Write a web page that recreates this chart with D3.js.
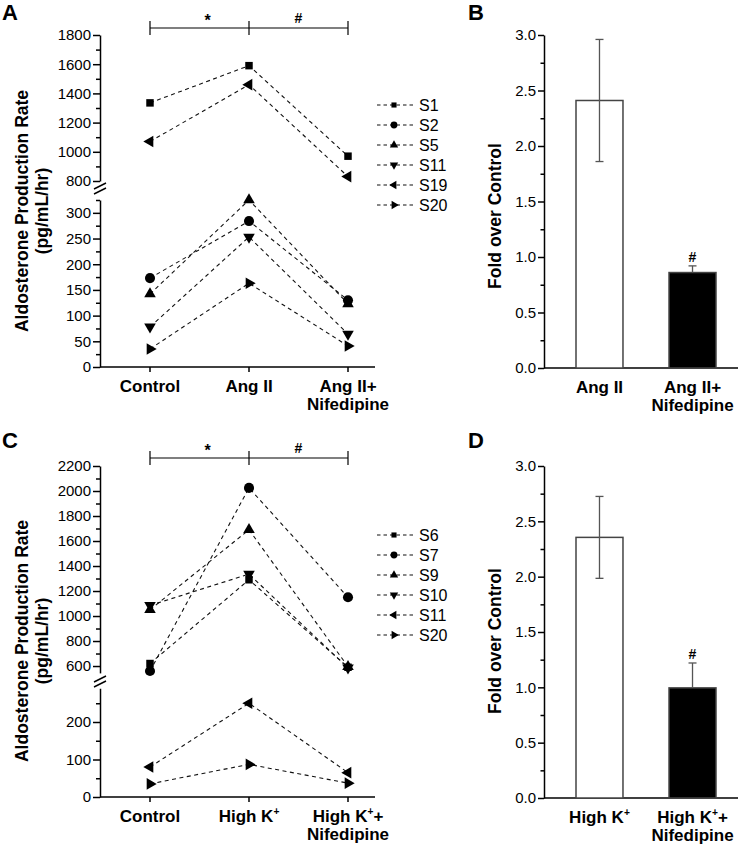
<!DOCTYPE html>
<html>
<head>
<meta charset="utf-8">
<script src="https://cdn.jsdelivr.net/npm/d3@7"></script>
<style>
body { margin: 0; background: #fff; }
svg text { font-family: "Liberation Sans", Arial, sans-serif; fill: #000; }
</style>
</head>
<body>
<div id="chart"></div>
<script>
// ---- Panel A: Ang II experiment (pg/mL/hr)
var catsA = [["Control"], ["Ang II"], ["Ang II+", "Nifedipine"]];
var subjectsA = ["S1", "S2", "S5", "S11", "S19", "S20"];
var valuesA = [
    [1335, 1590, 970],
    [173, 284, 130],
    [142, 325, 123],
    [78, 253, 64],
    [1070, 1460, 830],
    [35, 163, 41]
];
var upperTicksA = [800, 1000, 1200, 1400, 1600, 1800];
var upperMinorA = [900, 1100, 1300, 1500, 1700];
var lowerTicksA = [0, 50, 100, 150, 200, 250, 300];
var lowerMinorA = [25, 75, 125, 175, 225, 275, 325];

// ---- Panel B: fold over control
var catsB = [["Ang II"], ["Ang II+", "Nifedipine"]];
var foldB = [2.41, 0.86];
var errB = [0.55, 0.06];

// ---- Panel C: High K+ experiment (pg/mL/hr)
var catsC = [["Control"], ["High K^+"], ["High K^+^+", "Nifedipine"]];
var subjectsC = ["S6", "S7", "S9", "S10", "S11", "S20"];
var valuesC = [
    [620, 1290, 590],
    [560, 2025, 1150],
    [1050, 1690, 595],
    [1085, 1335, 585],
    [80, 250, 65],
    [35, 87, 37]
];
var upperTicksC = [600, 800, 1000, 1200, 1400, 1600, 1800, 2000, 2200];
var upperMinorC = [700, 900, 1100, 1300, 1500, 1700, 1900, 2100];
var lowerTicksC = [0, 100, 200];
var lowerMinorC = [50, 150, 250];

// ---- Panel D
var catsD = [["High K^+"], ["High K^+^+", "Nifedipine"]];
var foldD = [2.355, 0.995];
var errD = [0.37, 0.225];

var foldTicks = [0, 0.5, 1, 1.5, 2, 2.5, 3];
var foldMinor = [0.25, 0.75, 1.25, 1.75, 2.25, 2.75];

var width = 750, height = 846;
var svg = d3.select('#chart')
    .append('svg')
    .attr('width', width)
    .attr('height', height);

// symbol per series position: square, circle, up, down, left, right
var symbols = [
    { type: d3.symbolSquare, rot: 0, size: 56, small: 26 },
    { type: d3.symbolCircle, rot: 0, size: 80, small: 36 },
    { type: d3.symbolTriangle, rot: 0, size: 58, small: 30 },
    { type: d3.symbolTriangle, rot: 180, size: 58, small: 30 },
    { type: d3.symbolTriangle, rot: -90, size: 58, small: 30 },
    { type: d3.symbolTriangle, rot: 90, size: 58, small: 30 }
];

// category label line; "^+" is a superscript plus
function catLine(sel, str) {
    var parts = str.split('^');
    sel.append('tspan').text(parts[0]);
    if (parts.length > 1) {
        sel.append('tspan').attr('font-size', '0.6em').attr('dy', -7).text(parts[1]);
        sel.append('tspan').attr('dy', 7).text(parts[2] || '');
    }
}

function styleAxis(g) {
    g.selectAll('path, line').attr('stroke', '#000').attr('stroke-width', 1.5);
    g.selectAll('text').attr('font-size', '15px');
}

function linePanel(cfg) {
    var g = svg.append('g');
    var x = d3.scalePoint().domain(d3.range(3)).range([150, 348]);
    var yU = d3.scaleLinear().domain(cfg.upperDomain).range(cfg.upperRange);
    var yL = d3.scaleLinear().domain(cfg.lowerDomain).range(cfg.lowerRange);
    var yOf = function (v) { return v >= cfg.upperDomain[0] ? yU(v) : yL(v); };
    var axX = 100, base = cfg.lowerRange[0];

    // y axes (two segments)
    [[yU, cfg.upperTicks, cfg.upperMinor], [yL, cfg.lowerTicks, cfg.lowerMinor]].forEach(function (s) {
        g.append('g').attr('transform', 'translate(' + axX + ',0)')
            .call(d3.axisLeft(s[0]).tickValues(s[1]).tickFormat(d3.format('d'))
                .tickSize(7).tickSizeOuter(0).tickPadding(2))
            .call(styleAxis);
        g.append('g').attr('transform', 'translate(' + axX + ',0)')
            .call(d3.axisLeft(s[0]).tickValues(s[2]).tickSize(4).tickFormat(''))
            .call(styleAxis)
            .select('.domain').remove();
    });
    // axis break marks
    [0, 5].forEach(function (o) {
        g.append('line')
            .attr('x1', axX - 6).attr('y1', cfg.breakY + o + 3)
            .attr('x2', axX + 6).attr('y2', cfg.breakY + o - 3)
            .attr('stroke', '#000').attr('stroke-width', 1.5);
    });

    // x axis
    g.append('line').attr('x1', axX).attr('x2', 375).attr('y1', base).attr('y2', base)
        .attr('stroke', '#000').attr('stroke-width', 1.5);
    g.selectAll('.xt').data(d3.range(3)).enter().append('line')
        .attr('x1', function (d) { return x(d); }).attr('x2', function (d) { return x(d); })
        .attr('y1', base).attr('y2', base + 5)
        .attr('stroke', '#000').attr('stroke-width', 1.5);
    cfg.cats.forEach(function (lines, i) {
        lines.forEach(function (l, k) {
            var t = g.append('text').attr('x', x(i)).attr('y', base + 25 + k * 18)
                .attr('text-anchor', 'middle').attr('font-size', '17px').attr('font-weight', 'bold');
            catLine(t, l);
        });
    });

    // y label
    var yc = cfg.labelY;
    g.append('text').attr('transform', 'translate(28,' + yc + ') rotate(-90)')
        .attr('text-anchor', 'middle').attr('font-size', '17.5px').attr('font-weight', 'bold')
        .text('Aldosterone Production Rate');
    g.append('text').attr('transform', 'translate(48,' + yc + ') rotate(-90)')
        .attr('text-anchor', 'middle').attr('font-size', '17.5px').attr('font-weight', 'bold')
        .text('(pg/mL/hr)');

    // series lines
    var line = d3.line();
    cfg.values.forEach(function (vals) {
        g.append('path')
            .attr('d', line(vals.map(function (v, j) { return [x(j), yOf(v)]; })))
            .attr('fill', 'none').attr('stroke', '#111').attr('stroke-width', 1.1)
            .attr('stroke-dasharray', '4,3.5');
    });
    // markers, last series first so earlier ones sit on top
    d3.range(cfg.values.length - 1, -1, -1).forEach(function (i) {
        var s = symbols[i];
        cfg.values[i].forEach(function (v, j) {
            g.append('path')
                .attr('d', d3.symbol().type(s.type).size(s.size)())
                .attr('transform', 'translate(' + x(j) + ',' + yOf(v) + ') rotate(' + s.rot + ')')
                .attr('fill', '#000');
        });
    });

    // legend
    cfg.names.forEach(function (n, i) {
        var ly = cfg.legendY + i * 20, s = symbols[i];
        g.append('line').attr('x1', 377).attr('x2', 415).attr('y1', ly).attr('y2', ly)
            .attr('stroke', '#111').attr('stroke-width', 1.1).attr('stroke-dasharray', '3.5,3');
        g.append('path').attr('d', d3.symbol().type(s.type).size(s.small)())
            .attr('transform', 'translate(394,' + ly + ') rotate(' + s.rot + ')').attr('fill', '#000');
        g.append('text').attr('x', 419).attr('y', ly + 6).attr('font-size', '16px').text(n);
    });

    // significance bracket
    var sy = cfg.sigY;
    g.append('line').attr('x1', x(0)).attr('x2', x(2)).attr('y1', sy).attr('y2', sy)
        .attr('stroke', '#000').attr('stroke-width', 1.2);
    d3.range(3).forEach(function (j) {
        g.append('line').attr('x1', x(j)).attr('x2', x(j)).attr('y1', sy - 7).attr('y2', sy + 7)
            .attr('stroke', '#000').attr('stroke-width', 1.2);
    });
    g.append('text').attr('x', (x(0) + x(1)) / 2 + 8).attr('y', sy - 2)
        .attr('text-anchor', 'middle').attr('font-size', '16px').attr('font-weight', 'bold').text('*');
    g.append('text').attr('x', (x(1) + x(2)) / 2).attr('y', sy - 5)
        .attr('text-anchor', 'middle').attr('font-size', '14px').attr('font-weight', 'bold').text('#');

    g.append('text').attr('x', 2).attr('y', cfg.letterY).attr('font-size', '22px')
        .attr('font-weight', 'bold').text(cfg.letter);
}

function barPanel(cfg) {
    var g = svg.append('g');
    var axX = 544;
    var y = d3.scaleLinear().domain([0, 3]).range(cfg.yRange);
    var x = d3.scaleBand().domain(d3.range(cfg.vals.length)).range([544, 748])
        .paddingInner(0.495).paddingOuter(0.344);
    var base = cfg.yRange[0];

    g.append('g').attr('transform', 'translate(' + axX + ',0)')
        .call(d3.axisLeft(y).tickValues(foldTicks).tickFormat(d3.format('.1f')).tickSize(6).tickSizeOuter(0).tickPadding(2))
        .call(styleAxis);
    g.append('g').attr('transform', 'translate(' + axX + ',0)')
        .call(d3.axisLeft(y).tickValues(foldMinor).tickSize(3.5).tickFormat(''))
        .call(styleAxis)
        .select('.domain').remove();
    g.append('line').attr('x1', axX).attr('x2', 738).attr('y1', base).attr('y2', base)
        .attr('stroke', '#000').attr('stroke-width', 1.5);

    var fills = ['#fff', '#000'];
    g.selectAll('rect').data(cfg.vals).enter().append('rect')
        .attr('x', function (d, i) { return x(i); })
        .attr('y', function (d) { return y(d); })
        .attr('width', x.bandwidth())
        .attr('height', function (d) { return base - y(d); })
        .attr('fill', function (d, i) { return fills[i]; })
        .attr('stroke', '#444').attr('stroke-width', 1.5);

    cfg.vals.forEach(function (v, i) {
        var cx = x(i) + x.bandwidth() / 2, e = cfg.errs[i];
        var lo = i === 0 ? v - e : v;
        g.append('line').attr('x1', cx).attr('x2', cx).attr('y1', y(lo)).attr('y2', y(v + e))
            .attr('stroke', '#555').attr('stroke-width', 1.3);
        [v + e].concat(i === 0 ? [v - e] : []).forEach(function (c) {
            g.append('line').attr('x1', cx - 4).attr('x2', cx + 4).attr('y1', y(c)).attr('y2', y(c))
                .attr('stroke', '#555').attr('stroke-width', 1.3);
        });
        if (i === 1) {
            g.append('text').attr('x', cx).attr('y', y(v + e) - 4)
                .attr('text-anchor', 'middle').attr('font-size', '14px').attr('font-weight', 'bold').text('#');
        }
        cfg.cats[i].forEach(function (l, k) {
            var t = g.append('text').attr('x', cx).attr('y', base + 25 + k * 18)
                .attr('text-anchor', 'middle').attr('font-size', '17px').attr('font-weight', 'bold');
            catLine(t, l);
        });
    });

    g.append('text').attr('transform', 'translate(501,' + cfg.labelY + ') rotate(-90)')
        .attr('text-anchor', 'middle').attr('font-size', '17.5px').attr('font-weight', 'bold')
        .text('Fold over Control');
    g.append('text').attr('x', 468).attr('y', cfg.letterY).attr('font-size', '22px')
        .attr('font-weight', 'bold').text(cfg.letter);
}

linePanel({
    letter: 'A', letterY: 20,
    cats: catsA, names: subjectsA, values: valuesA,
    upperDomain: [800, 1800], upperRange: [181, 35],
    lowerDomain: [0, 325], lowerRange: [367, 200],
    upperTicks: upperTicksA, upperMinor: upperMinorA,
    lowerTicks: lowerTicksA, lowerMinor: lowerMinorA,
    breakY: 186, legendY: 105, sigY: 28, labelY: 211
});
barPanel({
    letter: 'B', letterY: 20, cats: catsB, vals: foldB, errs: errB,
    yRange: [368, 35], labelY: 216
});
linePanel({
    letter: 'C', letterY: 448,
    cats: catsC, names: subjectsC, values: valuesC,
    upperDomain: [545, 2200], upperRange: [672.9, 466],
    lowerDomain: [0, 290], lowerRange: [797, 688.25],
    upperTicks: upperTicksC, upperMinor: upperMinorC,
    lowerTicks: lowerTicksC, lowerMinor: lowerMinorC,
    breakY: 679, legendY: 535, sigY: 458, labelY: 641
});
barPanel({
    letter: 'D', letterY: 448, cats: catsD, vals: foldD, errs: errD,
    yRange: [798, 466], labelY: 641
});
</script>
</body>
</html>
